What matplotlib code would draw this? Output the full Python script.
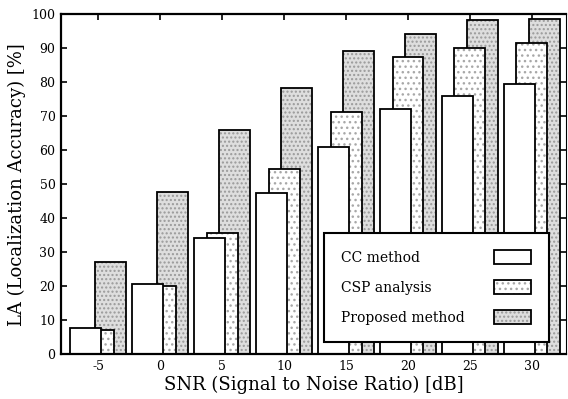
import matplotlib
matplotlib.use("Agg")
import matplotlib.pyplot as plt
import numpy as np
from matplotlib.patches import Patch
from matplotlib.legend_handler import HandlerTuple

snr = [-5, 0, 5, 10, 15, 20, 25, 30]
cc_method = [7.8, 20.6, 34.2, 47.4, 61.0, 72.1, 76.0, 79.3]
csp_analysis = [7.1, 20.1, 35.6, 54.5, 71.3, 87.4, 90.1, 91.5]
proposed_method = [27.0, 47.8, 66.0, 78.2, 89.2, 94.2, 98.3, 98.5]
labels = ["CC method", "CSP analysis", "Proposed method"]
yticks = [0, 10, 20, 30, 40, 50, 60, 70, 80, 90, 100]

plt.rcParams['font.family'] = ['DejaVu Serif']
plt.rcParams['hatch.linewidth'] = 1.0
plt.rcParams['axes.unicode_minus'] = False

fig = plt.figure(figsize=(5.68, 3.99), dpi=100)
ax = fig.add_axes([61/568, 44.7/399, 505/568, 340.3/399])

x = np.array(snr, dtype=float)
w = 2.5
lw = 1.3
pr_face, pr_hatch = '#dedede', '#9a9a9a'
csp_hatch = '#a8a8a8'

# Proposed (bottom layer)
ax.bar(x + 1, proposed_method, w, facecolor=pr_face, edgecolor=pr_hatch,
       hatch='....', linewidth=0, zorder=2)
ax.bar(x + 1, proposed_method, w, facecolor='none', edgecolor='black',
       linewidth=lw, zorder=2.1)
# CSP
ax.bar(x, csp_analysis, w, facecolor='white', edgecolor=csp_hatch,
       hatch='...', linewidth=0, zorder=3)
ax.bar(x, csp_analysis, w, facecolor='none', edgecolor='black',
       linewidth=lw, zorder=3.1)
# CC
ax.bar(x - 1, cc_method, w, facecolor='white', edgecolor='black',
       linewidth=lw, zorder=4)

ax.set_xlim(-8, 32.75)
ax.set_ylim(0, 100)
ax.set_xticks(snr)
ax.set_yticks(yticks)
ax.tick_params(direction='in', top=True, right=True, length=4, width=1.2,
               labelsize=9, pad=4)
for s in ax.spines.values():
    s.set_linewidth(1.6)
    s.set_zorder(10)
ax.spines['right'].set_linewidth(0.8)

ax.set_xlabel("SNR (Signal to Noise Ratio) [dB]", fontsize=13, labelpad=2)
ax.set_ylabel("LA (Localization Accuracy) [%]", fontsize=13, labelpad=4)

h_cc = Patch(facecolor='white', edgecolor='black', linewidth=lw)
h_csp = (Patch(facecolor='white', edgecolor=csp_hatch, hatch='...', linewidth=0),
         Patch(facecolor='none', edgecolor='black', linewidth=lw))
h_pr = (Patch(facecolor=pr_face, edgecolor=pr_hatch, hatch='....', linewidth=0),
        Patch(facecolor='none', edgecolor='black', linewidth=lw))

textpad = 2.05
fs = 10
leg = ax.legend([h_cc, h_csp, h_pr], labels, loc='lower left',
                bbox_to_anchor=(0.521, 0.036),
                markerfirst=False, fontsize=fs, frameon=True, fancybox=False,
                edgecolor='black', framealpha=1, borderpad=1.25,
                labelspacing=1.1, handlelength=2.7, handleheight=1.15,
                handletextpad=textpad, borderaxespad=0,
                handler_map={tuple: HandlerTuple(ndivide=1, pad=0)})
leg.get_frame().set_linewidth(1.5)
leg.set_zorder(20)

# left-align the label texts (handles stay right-aligned)
renderer = fig.canvas.get_renderer()
widths = [t.get_window_extent(renderer).width for t in leg.get_texts()]
maxw = max(widths)
rows = []
for col in leg._legend_handle_box.get_children():
    rows.extend(col.get_children())
for row, wpx in zip(rows, widths):
    row.sep = textpad * fs + (maxw - wpx) * 72.0 / fig.dpi

fig.savefig("out.png", dpi=100)
